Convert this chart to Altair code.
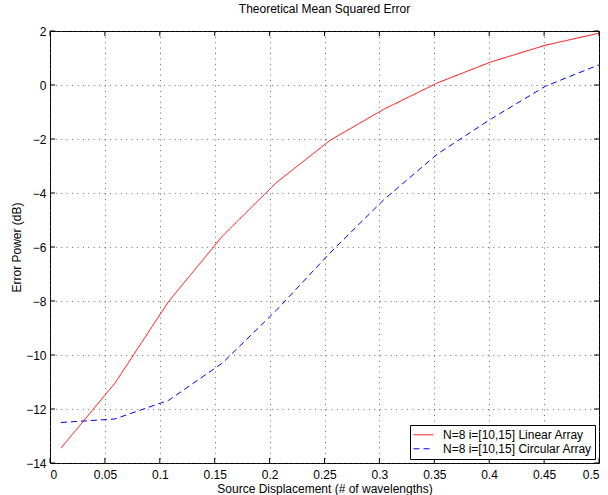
import altair as alt
import pandas as pd

# ---- data ----
displacement = [0.01, 0.059, 0.108, 0.157, 0.206, 0.255, 0.304, 0.353, 0.402, 0.451, 0.5]
linear_db = [-13.45, -11.05, -8.02, -5.6, -3.62, -2.05, -0.9, 0.08, 0.86, 1.47, 1.92]
circular_db = [-12.5, -12.37, -11.68, -10.3, -8.35, -6.22, -4.25, -2.55, -1.25, -0.05, 0.75]
series_names = ["N=8 i=[10,15] Linear Array", "N=8 i=[10,15] Circular Array"]
x_ticks = [0, 0.05, 0.1, 0.15, 0.2, 0.25, 0.3, 0.35, 0.4, 0.45, 0.5]
y_ticks = [-14, -12, -10, -8, -6, -4, -2, 0, 2]

rows = []
for x, a, b in zip(displacement, linear_db, circular_db):
    rows.append({"x": x, "y": a, "series": series_names[0]})
    rows.append({"x": x, "y": b, "series": series_names[1]})
df = pd.DataFrame(rows)

W, H = 549, 432
FONT = "Liberation Sans"

xscale = alt.Scale(domain=[0, 0.5], nice=False, zero=False)
yscale = alt.Scale(domain=[-14, 2], nice=False, zero=False)

legend_opts = dict(title=None, orient="bottom-right", offset=4,
                   symbolType="stroke", symbolSize=400, symbolStrokeWidth=1,
                   labelFontSize=12, labelFont=FONT, labelLimit=300, labelColor="black",
                   strokeColor="black", fillColor="white", padding=3,
                   rowPadding=0, clipHeight=13.5, labelOffset=9, cornerRadius=0)

lines = alt.Chart(df).mark_line(strokeWidth=1, clip=True).encode(
    x=alt.X("x:Q", scale=xscale,
            axis=alt.Axis(values=x_ticks, format="~g", title="Source Displacement (# of wavelengths)",
                          grid=True, gridDash=[1, 4.4], gridColor="#444", gridOpacity=0.8,
                          tickSize=0, labelPadding=6, titlePadding=3,
                          titleFontWeight="normal", domain=False)),
    y=alt.Y("y:Q", scale=yscale,
            axis=alt.Axis(values=y_ticks, title="Error Power (dB)",
                          grid=True, gridDash=[1, 4.4], gridColor="#444", gridOpacity=0.8,
                          tickSize=0, labelPadding=4, titlePadding=2,
                          titleFontWeight="normal", domain=False)),
    color=alt.Color("series:N",
                    scale=alt.Scale(domain=series_names, range=["#ff0000", "#0000ff"]),
                    legend=alt.Legend(**legend_opts)),
    strokeDash=alt.StrokeDash("series:N",
                              scale=alt.Scale(domain=series_names, range=[[1, 0], [6, 4]]),
                              legend=alt.Legend(**legend_opts)),
    order="x:Q",
)

# inward tick marks (MATLAB style), positioned from the tick value lists
xt = pd.DataFrame({"t": x_ticks})
yt = pd.DataFrame({"t": y_ticks})
tick_bottom = alt.Chart(xt).mark_rule(color="black", strokeWidth=1).encode(
    x=alt.X("t:Q", scale=xscale), y=alt.value(H), y2=alt.value(H - 5))
tick_top = alt.Chart(xt).mark_rule(color="black", strokeWidth=1).encode(
    x=alt.X("t:Q", scale=xscale), y=alt.value(0), y2=alt.value(5))
tick_left = alt.Chart(yt).mark_rule(color="black", strokeWidth=1).encode(
    y=alt.Y("t:Q", scale=yscale), x=alt.value(0), x2=alt.value(5))
tick_right = alt.Chart(yt).mark_rule(color="black", strokeWidth=1).encode(
    y=alt.Y("t:Q", scale=yscale), x=alt.value(W), x2=alt.value(W - 5))

chart = alt.layer(lines, tick_bottom, tick_top, tick_left, tick_right).properties(
    width=W, height=H,
    title=alt.TitleParams("Theoretical Mean Squared Error", fontSize=12, fontWeight="normal",
                          font=FONT, offset=9, color="black"),
    autosize=alt.AutoSizeParams(type="none"),
    padding={"left": 50, "top": 31, "right": 9, "bottom": 32},
    background="white",
).configure_view(stroke="black", strokeWidth=1).configure_axis(
    labelFont=FONT, titleFont=FONT, labelFontSize=12, titleFontSize=12,
    titleFontWeight="normal", labelColor="black", titleColor="black",
)

chart.save("out.html", embed_options={"renderer": "svg", "actions": False})
